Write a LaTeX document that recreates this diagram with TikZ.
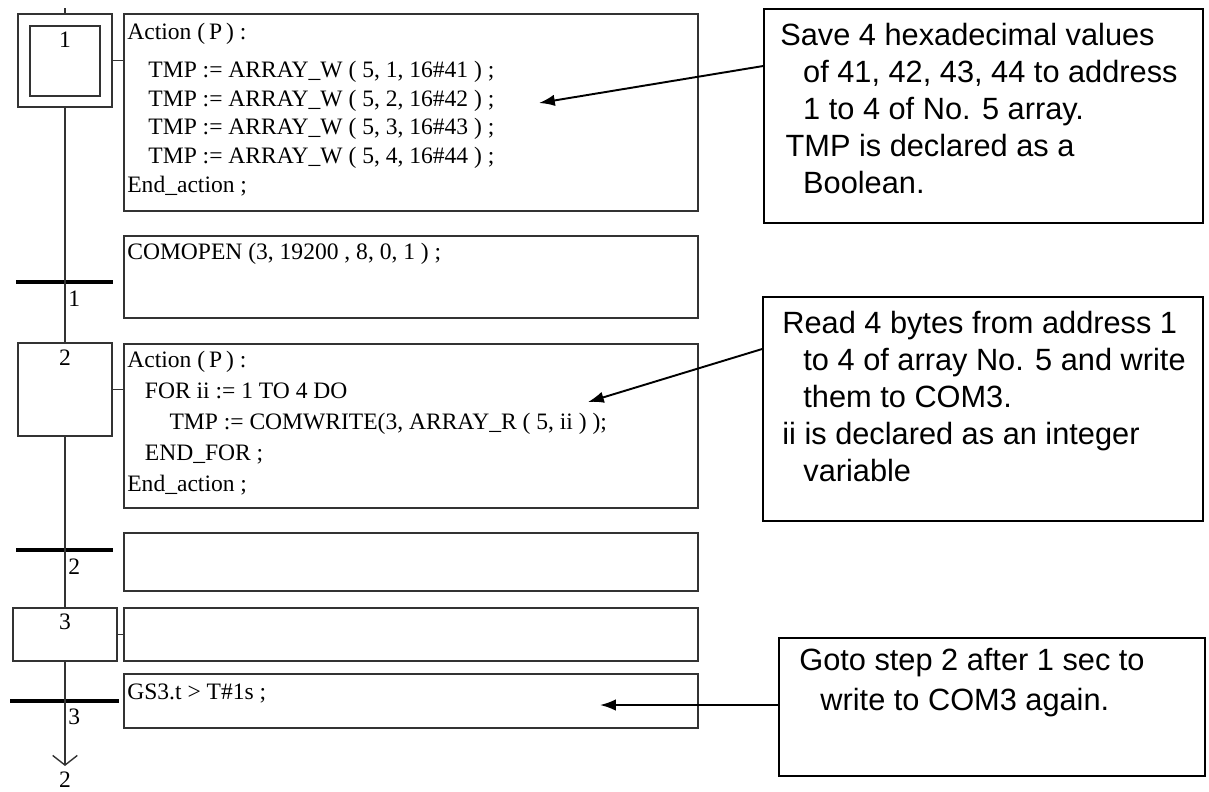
\documentclass[tikz,border=0pt]{standalone}
\usepackage{fontspec}
\setmainfont{Liberation Serif}
\newfontfamily\notefont{Liberation Sans}
\usetikzlibrary{arrows.meta,fit}
\definecolor{dkgray}{rgb}{0.2,0.2,0.2}

\begin{document}
\begin{tikzpicture}[line join=miter,>={Latex[length=9pt,width=6.5pt]},x=0.02cm,y=-0.02cm,
  sfcbox/.style={draw=dkgray,line width=0.8pt,inner sep=0pt},
  notebox/.style={draw=black,line width=1.1pt,inner sep=0pt},
  code/.style={anchor=north west,inner sep=0pt,align=left,font=\fontsize{13.4}{16.4}\selectfont},
  note/.style={anchor=north west,inner sep=0pt,align=left,font=\notefont\fontsize{17.5}{21}\selectfont},
  num/.style={inner sep=0pt,font=\fontsize{13.4}{16}\selectfont},
  bar/.style={line width=2.3pt},
  link/.style={draw=dkgray,line width=0.8pt},
  pointer/.style={->,line width=1.1pt}]
\useasboundingbox (0,0) rectangle (1209,791);
% steps
\node[sfcbox,fit={(18,14) (112,107)}] (s1) {};
\node[sfcbox,fit={(30,26) (100,96)}] (s1in) {};
\node[num] (s1lbl) at (65,40) {1};
\node[sfcbox,fit={(18,343) (112,436)}] (s2) {};
\node[num] (s2lbl) at (65,358) {2};
\node[sfcbox,fit={(13,608) (117,661)}] (s3) {};
\node[num] (s3lbl) at (65,622) {3};
% action and condition boxes
\node[sfcbox,fit={(124,14) (698,211)}] (act1) {};
\node[sfcbox,fit={(124,236) (698,318)}] (cond1) {};
\node[sfcbox,fit={(124,344) (698,508)}] (act2) {};
\node[sfcbox,fit={(124,533) (698,591)}] (cond2) {};
\node[sfcbox,fit={(124,608) (698,661)}] (act3) {};
\node[sfcbox,fit={(124,674) (698,728)}] (cond3) {};
\node[code] (act1txt) at (127,23) {Action (\,P\,) :\\[5pt]
  \hspace*{12pt}TMP := ARRAY\_W ( 5, 1, 16\#41 ) ;\\
  \hspace*{12pt}TMP := ARRAY\_W ( 5, 2, 16\#42 ) ;\\
  \hspace*{12pt}TMP := ARRAY\_W ( 5, 3, 16\#43 ) ;\\
  \hspace*{12pt}TMP := ARRAY\_W ( 5, 4, 16\#44 ) ;\\
  End\_action ;};
\node[code] (cond1txt) at (127,243) {COMOPEN (3, 19200 , 8, 0, 1 ) ;};
\node[code,font=\fontsize{13.4}{17.6}\selectfont] (act2txt) at (127,351) {Action (\,P\,) :\\
  \hspace*{10pt}FOR ii := 1 TO 4 DO\\
  \hspace*{24pt}TMP := COMWRITE(3, ARRAY\_R ( 5, ii ) );\\
  \hspace*{10pt}END\_FOR ;\\
  End\_action ;};
\node[code] (cond3txt) at (127,684) {GS3.t > T\#1s ;};
% transitions
\coordinate (t1w) at (16,282);  \coordinate (t1e) at (113,282);
\coordinate (t2w) at (16,550);  \coordinate (t2e) at (113,550);
\coordinate (t3w) at (10,701);  \coordinate (t3e) at (119,701);
\draw[bar] (t1w) -- (t1e);
\draw[bar] (t2w) -- (t2e);
\draw[bar] (t3w) -- (t3e);
\node[num,anchor=west] (t1lbl) at (68,299) {1};
\node[num,anchor=west] (t2lbl) at (68,567) {2};
\node[num,anchor=west] (t3lbl) at (68,717) {3};
% main line
\coordinate (top) at (65,8);
\coordinate (end) at (65,766);
\draw[link] (top) -- (s1.north);
\draw[link] (s1.south) -- (s2.north);
\draw[link] (s2.south) -- (s3.north);
\draw[link,-{Straight Barb[length=5.5pt,width=14pt]}] (s3.south) -- (end);
\node[num] (jump) at (65,780) {2};
\draw[link] (s1.east) -- (s1.east -| act1.west);
\draw[link] (s2.east) -- (s2.east -| act2.west);
\draw[link] (s3.east) -- (s3.east -| act3.west);
% notes
\node[notebox,fit={(764,9) (1203,223)}] (c1) {};
\node[notebox,fit={(763,297) (1203,521)}] (c2) {};
\node[notebox,fit={(779,638) (1205,776)}] (c3) {};
\node[note] (c1txt) at (780,23) {Save 4 hexadecimal values\\
  \hspace*{13pt}of 41, 42, 43, 44 to address\\
  \hspace*{13pt}1 to 4 of No. 5 array.\\
  \hspace*{3pt}TMP is declared as a\\
  \hspace*{13pt}Boolean.};
\node[note] (c2txt) at (782,311) {Read 4 bytes from address 1\\
  \hspace*{12pt}to 4 of array No. 5 and write\\
  \hspace*{12pt}them to COM3.\\
  ii is declared as an integer\\
  \hspace*{12pt}variable};
\node[note,font=\notefont\fontsize{17.5}{22.7}\selectfont] (c3txt) at (799,648) {Goto step 2 after 1 sec to\\
  \hspace*{12pt}write to COM3 again.};
\coordinate (p1) at (539,103);
\coordinate (p2) at (588,402);
\coordinate (p3) at (600,705);
\draw[pointer] ([shift={(0,58)}]c1.north west) -- (p1);
\draw[pointer] ([shift={(0,53)}]c2.north west) -- (p2);
\draw[pointer] (c3.west |- p3) -- (p3);
\end{tikzpicture}
\end{document}
